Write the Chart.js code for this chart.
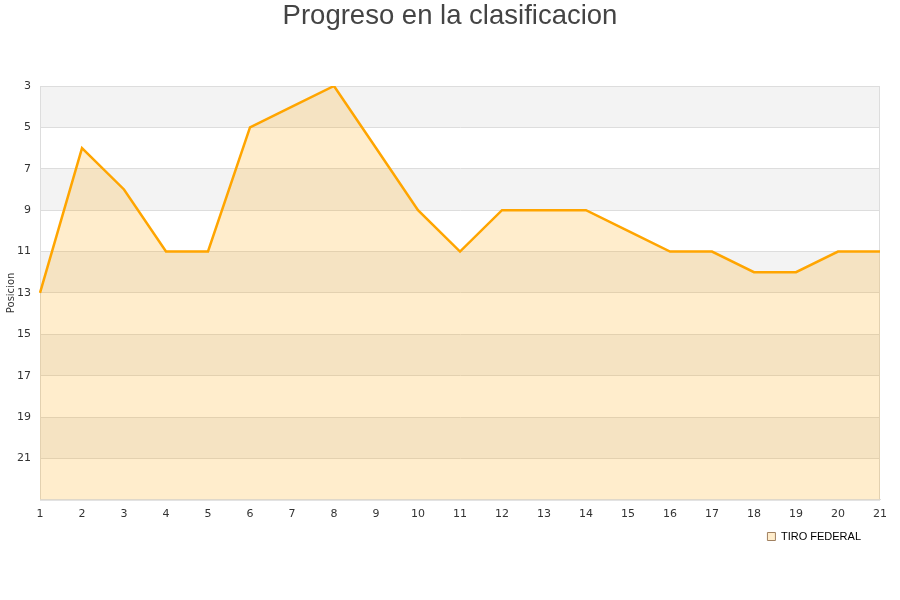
<!DOCTYPE html>
<html>
<head>
<meta charset="utf-8">
<script src="https://cdn.jsdelivr.net/npm/chart.js@4.4.0/dist/chart.umd.min.js"></script>
<style>
    html, body { margin: 0; padding: 0; background: #fff; }
    #wrap { width: 900px; height: 600px; }
</style>
</head>
<body>
<div id="wrap"><canvas id="chart" width="900" height="600"></canvas></div>
<script>
// jornadas y posicion de cada una
const jornadas = ['1', '2', '3', '4', '5', '6', '7', '8', '9', '10', '11', '12', '13', '14', '15', '16', '17', '18', '19', '20', '21'];
const posiciones = [13, 6, 8, 11, 11, 5, 4, 3, 6, 9, 11, 9, 9, 9, 10, 11, 11, 12, 12, 11, 11];
const equipo = 'TIRO FEDERAL';
const posMin = 3;
const posMax = 23;

// franjas grises entre ticks alternos
const bandsPlugin = {
    id: 'bands',
    beforeDraw(chart) {
        const ctx = chart.ctx;
        const area = chart.chartArea;
        const y = chart.scales.y;
        ctx.save();
        ctx.fillStyle = '#f3f3f3';
        for (let v = posMin; v < posMax; v += 4) {
            const top = y.getPixelForValue(v);
            const bottom = y.getPixelForValue(Math.min(v + 2, posMax));
            ctx.fillRect(area.left, top, area.right - area.left, bottom - top);
        }
        ctx.strokeStyle = '#dddddd';
        ctx.lineWidth = 1;
        ctx.strokeRect(area.left + 0.5, area.top + 0.5, area.right - area.left - 1, area.bottom - area.top);
        ctx.restore();
    }
};

// titulo centrado en todo el canvas, leyenda un poco mas arriba/izquierda
const ajustesPlugin = {
    id: 'ajustes',
    afterLayout(chart) {
        if (chart.titleBlock) {
            chart.titleBlock.right = chart.width;
        }
        if (chart.legend) {
            chart.legend.right -= 9;
            chart.legend.top -= 8;
            chart.legend.bottom -= 8;
        }
    }
};

new Chart(document.getElementById('chart'), {
    type: 'line',
    data: {
        labels: jornadas,
        datasets: [{
            label: equipo,
            data: posiciones,
            borderColor: '#ffa500',
            borderWidth: 2.5,
            backgroundColor: 'rgba(255, 165, 0, 0.2)',
            fill: { value: posMax },
            pointRadius: 0,
            tension: 0
        }]
    },
    options: {
        responsive: false,
        animation: false,
        layout: { padding: { left: 0, right: 20, top: 0, bottom: 40 } },
        plugins: {
            title: {
                display: true,
                text: 'Progreso en la clasificacion',
                color: '#444444',
                font: { family: 'Liberation Sans', size: 27.5, weight: 'normal' },
                padding: { top: 0, bottom: 53 }
            },
            legend: {
                position: 'bottom',
                align: 'end',
                labels: {
                    boxWidth: 8,
                    boxHeight: 8,
                    color: '#000000',
                    font: { family: 'Liberation Sans', size: 11 },
                    padding: 10,
                    generateLabels(chart) {
                        const items = Chart.defaults.plugins.legend.labels.generateLabels(chart);
                        items.forEach(it => {
                            it.strokeStyle = '#a08060';
                            it.lineWidth = 1;
                        });
                        return items;
                    }
                }
            },
            tooltip: { enabled: false }
        },
        scales: {
            x: {
                offset: false,
                grid: { display: false, drawTicks: false },
                border: { color: '#dddddd' },
                ticks: {
                    color: '#333333',
                    font: { family: 'DejaVu Sans', size: 11 },
                    maxRotation: 0,
                    padding: 8
                }
            },
            y: {
                reverse: true,
                min: posMin,
                max: posMax,
                afterFit(scale) { scale.width = 40; },
                grid: { color: '#dddddd', drawTicks: false },
                border: { color: '#dddddd' },
                ticks: {
                    stepSize: 2,
                    color: '#333333',
                    font: { family: 'DejaVu Sans', size: 11 },
                    padding: 9,
                    callback: v => (v === posMax ? '' : v)
                },
                title: {
                    display: true,
                    text: 'Posicion',
                    color: '#333333',
                    font: { family: 'DejaVu Sans', size: 10 },
                    padding: { top: 5, bottom: 0 }
                }
            }
        }
    },
    plugins: [bandsPlugin, ajustesPlugin]
});
</script>
</body>
</html>
